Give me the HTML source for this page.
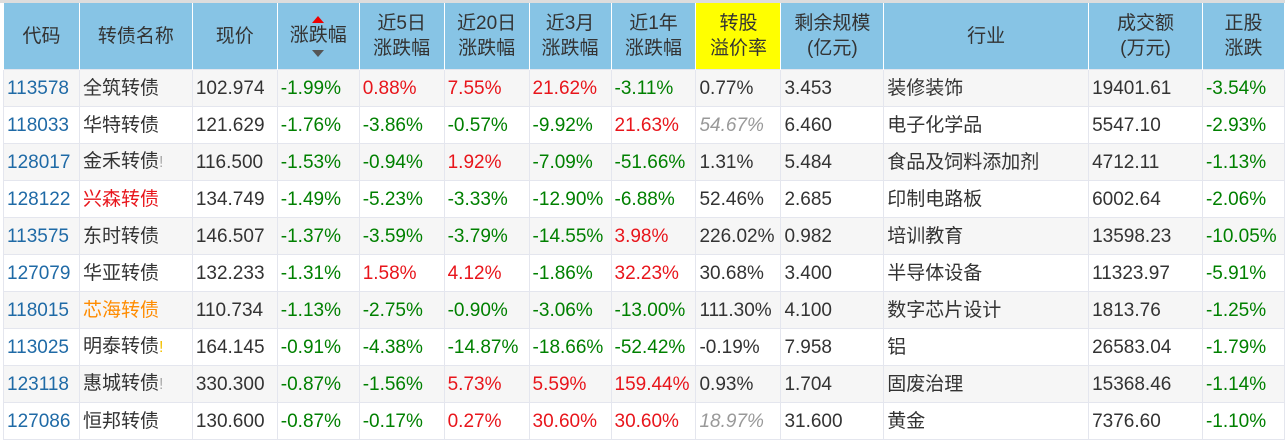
<!DOCTYPE html>
<html><head><meta charset="utf-8"><style>
html,body{margin:0;padding:0;background:#fff;width:1285px;height:441px;overflow:hidden}
body{border-top:3px solid #ddd;box-sizing:border-box;padding-left:3px}
table{border-collapse:collapse;table-layout:fixed;font-family:"Liberation Sans","Noto Sans CJK SC",sans-serif;font-size:19px;color:#333}
th{background:#87c4e5;color:#333;font-weight:normal;height:66px;border-right:1px solid #fff;border-left:1px solid #fff;padding:0;line-height:25px;vertical-align:middle;font-size:19px}
td{height:37px;box-sizing:border-box;border:1px solid #e4e6ee;padding:0 0 0 3px;white-space:nowrap;overflow:hidden;line-height:35px}
tr:nth-child(even) td{background:#f6f6f6}
tr:nth-child(odd) td{background:#fff}
.c{color:#1f6aa6}.g{color:#008000}.r{color:#e8151b}.i{color:#999;font-style:italic}
.o{color:#ff8c00}.rn{color:#e8151b}
.ex{color:#aaa;font-size:16px}.ey{color:#f3c000;font-size:16px}
th.y{background:#ffff00}
.tri{display:block;width:0;height:0;margin:0 auto;border-left:6px solid transparent;border-right:6px solid transparent}
</style></head><body>
<table>
<colgroup><col style="width:76px"><col style="width:113px"><col style="width:85px"><col style="width:82px"><col style="width:85px"><col style="width:85px"><col style="width:82px"><col style="width:85px"><col style="width:85px"><col style="width:103px"><col style="width:205px"><col style="width:114px"><col style="width:82px"></colgroup>
<tr><th>代码</th><th>转债名称</th><th>现价</th><th><span class="tri" style="border-bottom:7px solid #e00;margin-bottom:0"></span>涨跌幅<span class="tri" style="border-top:7px solid #555;margin-top:2px"></span></th><th>近5日<br>涨跌幅</th><th>近20日<br>涨跌幅</th><th>近3月<br>涨跌幅</th><th>近1年<br>涨跌幅</th><th class="y">转股<br>溢价率</th><th>剩余规模<br>(亿元)</th><th>行业</th><th>成交额<br>(万元)</th><th>正股<br>涨跌</th></tr>
<tr><td class="c">113578</td><td>全筑转债</td><td>102.974</td><td class="g">-1.99%</td><td class="r">0.88%</td><td class="r">7.55%</td><td class="r">21.62%</td><td class="g">-3.11%</td><td>0.77%</td><td>3.453</td><td>装修装饰</td><td>19401.61</td><td class="g">-3.54%</td></tr>
<tr><td class="c">118033</td><td>华特转债</td><td>121.629</td><td class="g">-1.76%</td><td class="g">-3.86%</td><td class="g">-0.57%</td><td class="g">-9.92%</td><td class="r">21.63%</td><td class="i">54.67%</td><td>6.460</td><td>电子化学品</td><td>5547.10</td><td class="g">-2.93%</td></tr>
<tr><td class="c">128017</td><td>金禾转债<span class="ex">!</span></td><td>116.500</td><td class="g">-1.53%</td><td class="g">-0.94%</td><td class="r">1.92%</td><td class="g">-7.09%</td><td class="g">-51.66%</td><td>1.31%</td><td>5.484</td><td>食品及饲料添加剂</td><td>4712.11</td><td class="g">-1.13%</td></tr>
<tr><td class="c">128122</td><td class="rn">兴森转债</td><td>134.749</td><td class="g">-1.49%</td><td class="g">-5.23%</td><td class="g">-3.33%</td><td class="g">-12.90%</td><td class="g">-6.88%</td><td>52.46%</td><td>2.685</td><td>印制电路板</td><td>6002.64</td><td class="g">-2.06%</td></tr>
<tr><td class="c">113575</td><td>东时转债</td><td>146.507</td><td class="g">-1.37%</td><td class="g">-3.59%</td><td class="g">-3.79%</td><td class="g">-14.55%</td><td class="r">3.98%</td><td>226.02%</td><td>0.982</td><td>培训教育</td><td>13598.23</td><td class="g">-10.05%</td></tr>
<tr><td class="c">127079</td><td>华亚转债</td><td>132.233</td><td class="g">-1.31%</td><td class="r">1.58%</td><td class="r">4.12%</td><td class="g">-1.86%</td><td class="r">32.23%</td><td>30.68%</td><td>3.400</td><td>半导体设备</td><td>11323.97</td><td class="g">-5.91%</td></tr>
<tr><td class="c">118015</td><td class="o">芯海转债</td><td>110.734</td><td class="g">-1.13%</td><td class="g">-2.75%</td><td class="g">-0.90%</td><td class="g">-3.06%</td><td class="g">-13.00%</td><td>111.30%</td><td>4.100</td><td>数字芯片设计</td><td>1813.76</td><td class="g">-1.25%</td></tr>
<tr><td class="c">113025</td><td>明泰转债<span class="ey">!</span></td><td>164.145</td><td class="g">-0.91%</td><td class="g">-4.38%</td><td class="g">-14.87%</td><td class="g">-18.66%</td><td class="g">-52.42%</td><td>-0.19%</td><td>7.958</td><td>铝</td><td>26583.04</td><td class="g">-1.79%</td></tr>
<tr><td class="c">123118</td><td>惠城转债<span class="ex">!</span></td><td>330.300</td><td class="g">-0.87%</td><td class="g">-1.56%</td><td class="r">5.73%</td><td class="r">5.59%</td><td class="r">159.44%</td><td>0.93%</td><td>1.704</td><td>固废治理</td><td>15368.46</td><td class="g">-1.14%</td></tr>
<tr><td class="c">127086</td><td>恒邦转债</td><td>130.600</td><td class="g">-0.87%</td><td class="g">-0.17%</td><td class="r">0.27%</td><td class="r">30.60%</td><td class="r">30.60%</td><td class="i">18.97%</td><td>31.600</td><td>黄金</td><td>7376.60</td><td class="g">-1.10%</td></tr>
</table>
</body></html>
